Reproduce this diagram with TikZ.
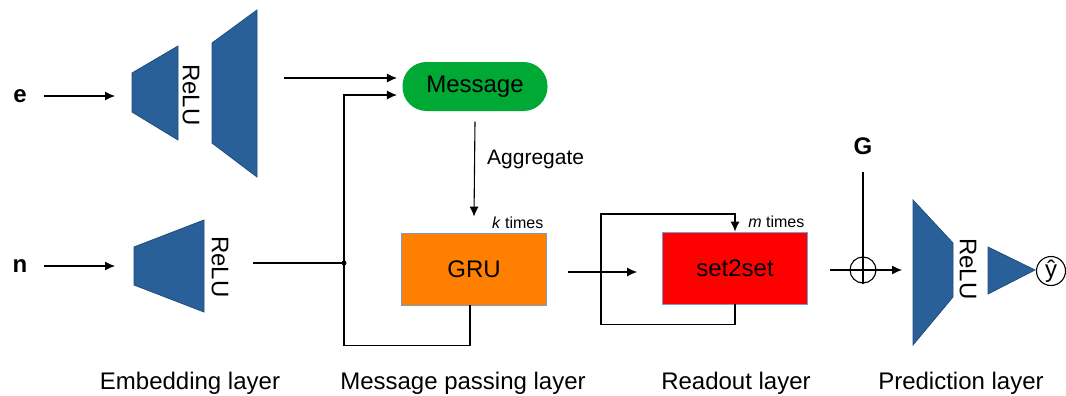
\documentclass[tikz,border=0pt]{standalone}
\usepackage{fontspec}
\setmainfont{Liberation Sans}
\usetikzlibrary{arrows.meta}
\definecolor{relublue}{HTML}{2A6099}
\definecolor{msggreen}{HTML}{00A933}
\definecolor{gruorange}{HTML}{FF8000}
\definecolor{setred}{HTML}{FF0000}
\definecolor{edgeblue}{HTML}{729FCF}
\begin{document}
\begin{tikzpicture}[x=0.5pt,y=-0.5pt,line width=0.55pt,
	every node/.style={font=\fontsize{12}{14}\selectfont},
	relu/.style={fill=relublue,draw=relublue!80!black,line width=0.4pt},
	block/.style={draw=edgeblue,line width=0.4pt,minimum width=72.5pt,minimum height=36pt},
	times/.style={anchor=south east,inner sep=1.5pt,font=\fontsize{8}{10}\selectfont}]
	\tikzset{>={Latex[length=5pt,width=4.5pt]}}
	\useasboundingbox (0,0) rectangle (1066,396);
	
	% embedding layer
	\node (e) at (20,96) {\bfseries e};
	\node (n) at (20,266) {\bfseries n};
	\coordinate (eIn) at (115,96);
	\coordinate (nIn) at (115,266);
	\draw[->] (44,96) coordinate (eStart) -- (eIn);
	\draw[->] (44,266) coordinate (nStart) -- (nIn);
	
	\filldraw[relu] (132,73) -- (178,46) -- (178,140) -- (132,112) -- cycle;
	\filldraw[relu] (212,43) -- (257,10) -- (257,177) -- (212,143) -- cycle;
	\filldraw[relu] (134,247) -- (204,220) -- (204,312) -- (134,285) -- cycle;
	\node[rotate=-90] (reluE) at (191,95) {ReLU};
	\node[rotate=-90] (reluN) at (220,267) {ReLU};
	
	\coordinate (eOut) at (284,78);
	\coordinate (nOut) at (253,263);
	\coordinate (j) at (344,263);
	
	% message passing layer
	\node[fill=msggreen,rounded corners=12pt,minimum width=72.5pt,minimum height=24.5pt] (msg) at (475,86.5) {Message};
	\node[block,fill=gruorange] (gru) at (474,269) {GRU};
	\node[times] at (gru.north east) {\textit{k} times};
	
	\draw[->,shorten >=2.5pt] (eOut) -- (msg.west |- eOut);
	\draw (nOut) -- (j);
	\fill (j) circle (2.5);
	\draw[->] ([xshift=-2pt]gru.south) -- ++(0,40) -| (j) |- ([xshift=-2.5pt,yshift=-4.25pt]msg.west);
	\draw[->] ([yshift=-5pt]msg.south) -- ([yshift=8pt]gru.north)
		node[pos=0.4,right,inner sep=6pt,font=\fontsize{10.5}{12}\selectfont] {Aggregate};
	
	% readout layer
	\node[block,fill=setred] (s2s) at (735,268) {set2set};
	\node[times] at (s2s.north east) {\textit{m} times};
	\coordinate (loop) at (601,214);
	\draw[->] ([xshift=10.5pt,yshift=-1.5pt]gru.east) -- ([xshift=-12.5pt,yshift=-2pt]s2s.west);
	\draw[->] (s2s.south) -- ++(0,20) -| (loop) -| (s2s.north);
	
	% prediction layer
	\node[circle,draw,minimum size=13pt,inner sep=0pt] (op) at (863,270) {};
	\draw (op.north) -- (op.south) (op.west) -- (op.east);
	\node (G) at (863,146) {\bfseries G};
	\draw ([yshift=-5pt]G.south) -- (op.north);
	\draw ([xshift=11pt]s2s.east |- op) -- (op.west);
	\coordinate (pIn) at (902,270);
	\draw[->] (op.east) -- (pIn);
	
	\filldraw[relu] (913,200) -- (953,243) -- (953,297) -- (913,345) -- cycle;
	\node[rotate=-90] (reluP) at (968,269) {ReLU};
	\filldraw[relu] (988,247) -- (1035,270) -- (988,294) -- cycle;
	\node[circle,draw,minimum size=14.5pt,inner sep=0pt] (yhat) at (1051,271) {ŷ};
	
	% layer names
	\node (embL) at (190,383) {Embedding layer};
	\node (mpL) at (463,383) {Message passing layer};
	\node (roL) at (736,383) {Readout layer};
	\node (prL) at (961,383) {Prediction layer};
	
\end{tikzpicture}
\end{document}
